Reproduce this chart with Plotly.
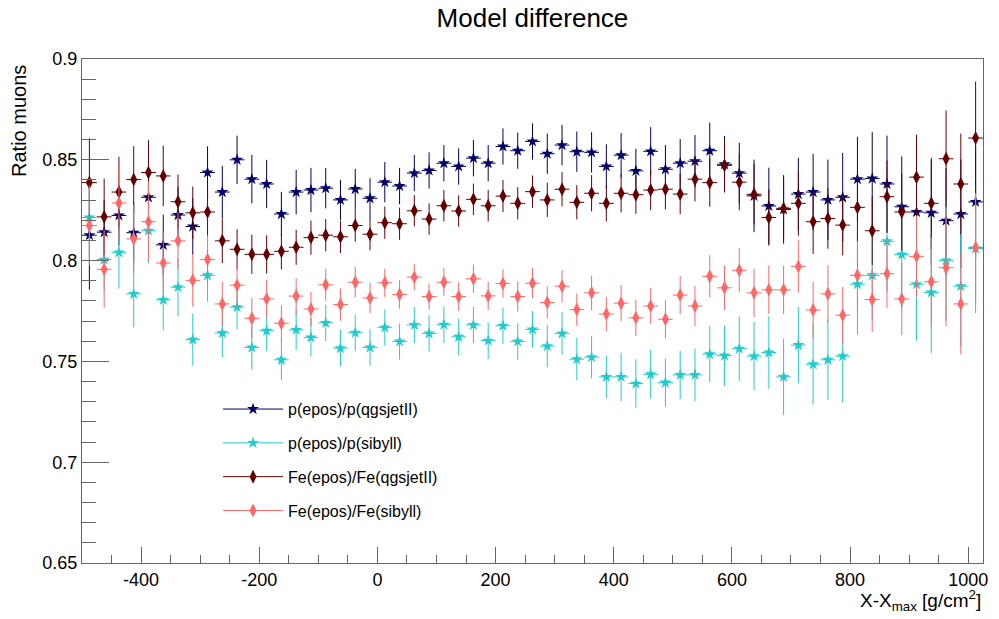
import plotly.graph_objects as go

# Bin centres (X - Xmax, g/cm^2), bin width 25
x_centers = [-487.5, -462.5, -437.5, -412.5, -387.5, -362.5, -337.5, -312.5, -287.5, -262.5,
             -237.5, -212.5, -187.5, -162.5, -137.5, -112.5, -87.5, -62.5, -37.5, -12.5,
             12.5, 37.5, 62.5, 87.5, 112.5, 137.5, 162.5, 187.5, 212.5, 237.5,
             262.5, 287.5, 312.5, 337.5, 362.5, 387.5, 412.5, 437.5, 462.5, 487.5,
             512.5, 537.5, 562.5, 587.5, 612.5, 637.5, 662.5, 687.5, 712.5, 737.5,
             762.5, 787.5, 812.5, 837.5, 862.5, 887.5, 912.5, 937.5, 962.5, 987.5,
             1012.5]
x_half_width = [12.5] * len(x_centers)

p_qgs = [0.8126, 0.8141, 0.8224, 0.8138, 0.8314, 0.8078, 0.8226, 0.8169, 0.8437, 0.8340,
         0.8500, 0.8404, 0.8380, 0.8231, 0.8340, 0.8350, 0.8359, 0.8301, 0.8355, 0.8309,
         0.8389, 0.8370, 0.8434, 0.8447, 0.8483, 0.8467, 0.8508, 0.8483, 0.8566, 0.8545,
         0.8591, 0.8530, 0.8573, 0.8540, 0.8537, 0.8467, 0.8523, 0.8445, 0.8542, 0.8453,
         0.8483, 0.8493, 0.8545, 0.8478, 0.8434, 0.8321, 0.8271, 0.8254, 0.8330, 0.8340,
         0.8301, 0.8314, 0.8404, 0.8407, 0.8380, 0.8267, 0.8241, 0.8237, 0.8198, 0.8231,
         0.8291]
p_qgs_err = [0.027, 0.016, 0.015, 0.015, 0.015, 0.015, 0.014, 0.014, 0.013, 0.013,
             0.012, 0.012, 0.012, 0.011, 0.011, 0.011, 0.010, 0.010, 0.010, 0.010,
             0.010, 0.009, 0.009, 0.009, 0.009, 0.009, 0.009, 0.009, 0.009, 0.009,
             0.009, 0.010, 0.010, 0.010, 0.010, 0.011, 0.011, 0.011, 0.012, 0.012,
             0.012, 0.013, 0.014, 0.014, 0.015, 0.018, 0.019, 0.017, 0.018, 0.019,
             0.020, 0.022, 0.021, 0.023, 0.024, 0.025, 0.025, 0.026, 0.026, 0.027,
             0.028]

p_sib = [0.8214, 0.8005, 0.8041, 0.7835, 0.8148, 0.7805, 0.7868, 0.7608, 0.7927, 0.7641,
         0.7769, 0.7569, 0.7652, 0.7508, 0.7656, 0.7619, 0.7691, 0.7566, 0.7642, 0.7569,
         0.7669, 0.7599, 0.7681, 0.7639, 0.7682, 0.7622, 0.7681, 0.7603, 0.7677, 0.7599,
         0.7659, 0.7576, 0.7639, 0.7511, 0.7521, 0.7423, 0.7423, 0.7390, 0.7436, 0.7395,
         0.7433, 0.7433, 0.7536, 0.7529, 0.7563, 0.7526, 0.7544, 0.7423, 0.7581, 0.7486,
         0.7508, 0.7526, 0.7883, 0.7927, 0.8096, 0.8030, 0.7883, 0.7842, 0.8001, 0.7873,
         0.8060]
p_sib_err = [0.020, 0.015, 0.018, 0.0166, 0.016, 0.015, 0.0145, 0.013, 0.013, 0.012,
             0.011, 0.011, 0.010, 0.010, 0.010, 0.0095, 0.009, 0.009, 0.009, 0.009,
             0.009, 0.009, 0.009, 0.009, 0.009, 0.009, 0.009, 0.009, 0.009, 0.009,
             0.009, 0.0105, 0.0105, 0.0105, 0.0105, 0.0105, 0.012, 0.012, 0.012, 0.012,
             0.012, 0.013, 0.014, 0.015, 0.016, 0.017, 0.018, 0.019, 0.019, 0.020,
             0.020, 0.023, 0.025, 0.022, 0.025, 0.027, 0.028, 0.030, 0.030, 0.030,
             0.032]

fe_qgs = [0.8387, 0.8217, 0.8340, 0.8402, 0.8437, 0.8420, 0.8292, 0.8237, 0.8241, 0.8098,
          0.8056, 0.8031, 0.8031, 0.8046, 0.8066, 0.8114, 0.8126, 0.8118, 0.8174, 0.8131,
          0.8188, 0.8183, 0.8247, 0.8206, 0.8272, 0.8246, 0.8304, 0.8272, 0.8320, 0.8284,
          0.8342, 0.8301, 0.8354, 0.8289, 0.8334, 0.8284, 0.8334, 0.8327, 0.8350, 0.8354,
          0.8330, 0.8404, 0.8387, 0.8472, 0.8389, 0.8329, 0.8214, 0.8259, 0.8284, 0.8193,
          0.8209, 0.8176, 0.8264, 0.8148, 0.8317, 0.8241, 0.8414, 0.8284, 0.8505, 0.8380,
          0.8608]
fe_qgs_err = [0.022, 0.019, 0.0175, 0.0166, 0.016, 0.015, 0.0135, 0.013, 0.012, 0.011,
              0.010, 0.0097, 0.0095, 0.009, 0.0087, 0.0085, 0.008, 0.008, 0.008, 0.008,
              0.008, 0.008, 0.0078, 0.0078, 0.0078, 0.0078, 0.0078, 0.0078, 0.008, 0.008,
              0.008, 0.0085, 0.0085, 0.0085, 0.009, 0.009, 0.0095, 0.0095, 0.010, 0.010,
              0.010, 0.011, 0.012, 0.013, 0.014, 0.015, 0.014, 0.015, 0.016, 0.016,
              0.015, 0.015, 0.017, 0.017, 0.018, 0.019, 0.021, 0.0226, 0.024, 0.025,
              0.028]

fe_sib = [0.8174, 0.7957, 0.8286, 0.8108, 0.8193, 0.7988, 0.8098, 0.7902, 0.8006, 0.7785,
          0.7878, 0.7714, 0.7810, 0.7689, 0.7824, 0.7760, 0.7880, 0.7782, 0.7893, 0.7815,
          0.7890, 0.7832, 0.7918, 0.7822, 0.7893, 0.7822, 0.7910, 0.7825, 0.7887, 0.7822,
          0.7888, 0.7792, 0.7873, 0.7757, 0.7840, 0.7735, 0.7789, 0.7716, 0.7775, 0.7709,
          0.7829, 0.7775, 0.7922, 0.7865, 0.7952, 0.7840, 0.7855, 0.7855, 0.7971, 0.7755,
          0.7835, 0.7729, 0.7927, 0.7807, 0.7935, 0.7810, 0.8021, 0.7895, 0.7965, 0.7785,
          0.8065]
fe_sib_err = [0.020, 0.019, 0.018, 0.017, 0.020, 0.015, 0.014, 0.013, 0.012, 0.011,
              0.011, 0.010, 0.0095, 0.009, 0.009, 0.0085, 0.008, 0.008, 0.0075, 0.0075,
              0.007, 0.007, 0.0065, 0.0065, 0.007, 0.007, 0.007, 0.007, 0.007, 0.0075,
              0.0075, 0.008, 0.008, 0.008, 0.0085, 0.0085, 0.009, 0.009, 0.009, 0.0095,
              0.0095, 0.010, 0.0105, 0.011, 0.011, 0.012, 0.012, 0.012, 0.013, 0.014,
              0.0143, 0.014, 0.017, 0.016, 0.017, 0.018, 0.020, 0.022, 0.029, 0.025,
              0.027]

series_names = ["p(epos)/p(qgsjetII)", "p(epos)/p(sibyll)",
                "Fe(epos)/Fe(qgsjetII)", "Fe(epos)/Fe(sibyll)"]
series_values = [p_qgs, p_sib, fe_qgs, fe_sib]
series_errors = [p_qgs_err, p_sib_err, fe_qgs_err, fe_sib_err]
series_colors = ["#000066", "#22cccc", "#660000", "#ff6666"]
series_symbols = ["star", "star", "diamond-tall", "diamond-tall"]
series_sizes = [9, 9, 10, 10]

x_tick_vals = [-400, -200, 0, 200, 400, 600, 800, 1000]
x_tick_text = ["-400", "-200", "0", "200", "400", "600", "800", "1000"]
y_tick_vals = [0.65, 0.7, 0.75, 0.8, 0.85, 0.9]
y_tick_text = ["0.65", "0.7", "0.75", "0.8", "0.85", "0.9"]

FONT = "Liberation Sans, Arial, Helvetica, sans-serif"

fig = go.Figure()
for name, vals, errs, col, sym, sz in zip(series_names, series_values, series_errors,
                                          series_colors, series_symbols, series_sizes):
    fig.add_trace(go.Scatter(
        x=x_centers, y=vals, mode="markers", showlegend=False,
        marker=dict(symbol=sym, size=sz, color=col, line=dict(width=0)),
        error_y=dict(type="data", array=errs, visible=True, color=col, thickness=1, width=0),
        error_x=dict(type="data", array=x_half_width, visible=True, color=col, thickness=1, width=0),
    ))

for i, (name, col, sym, sz) in enumerate(zip(series_names, series_colors, series_symbols, series_sizes)):
    fig.add_trace(go.Scatter(
        x=[None], y=[None], mode="lines+markers", name=name, legendgroup=f"g{i}",
        line=dict(color=col, width=1),
        marker=dict(symbol=sym, size=sz, color=col, line=dict(width=0)),
    ))

fig.update_layout(
    width=999, height=619,
    margin=dict(l=82, r=11, t=59, b=56),
    paper_bgcolor="white", plot_bgcolor="white",
    font=dict(family=FONT, size=18, color="black"),
    title=dict(text="Model difference", x=0.533, xanchor="center", xref="container",
               y=0.971, yanchor="middle", yref="container",
               font=dict(family=FONT, size=26, color="black")),
    showlegend=True,
    legend=dict(x=0.151, xanchor="left", y=0.339, yanchor="top",
                bgcolor="rgba(0,0,0,0)", borderwidth=0,
                font=dict(family=FONT, size=16, color="black"),
                traceorder="grouped", tracegroupgap=10, itemwidth=60),
    xaxis=dict(range=[-500, 1025], showgrid=False, zeroline=False,
               showline=True, linecolor="#666666", linewidth=1, mirror=True,
               ticks="inside", ticklen=16, tickcolor="#666666", tickwidth=1,
               tickvals=x_tick_vals, ticktext=x_tick_text,
               tickfont=dict(family=FONT, size=18, color="black"),
               minor=dict(ticks="inside", ticklen=8, dtick=50, tick0=0,
                          tickcolor="#666666", showgrid=False)),
    yaxis=dict(range=[0.65, 0.9], showgrid=False, zeroline=False,
               showline=True, linecolor="#666666", linewidth=1, mirror=True,
               ticks="inside", ticklen=27, tickcolor="#666666", tickwidth=1,
               tickvals=y_tick_vals, ticktext=y_tick_text,
               tickfont=dict(family=FONT, size=18, color="black"),
               minor=dict(ticks="inside", ticklen=14, dtick=0.01, tick0=0.65,
                          tickcolor="#666666", showgrid=False)),
    annotations=[
        dict(text="Ratio muons", textangle=-90, xref="paper", yref="paper",
             x=-0.07, y=0.992, xanchor="center", yanchor="top", showarrow=False,
             font=dict(family=FONT, size=20, color="black")),
        dict(text="X-X<sub>max</sub> [g/cm<sup>2</sup>]", xref="paper", yref="paper",
             x=1.0, y=-0.075, xanchor="right", yanchor="middle", showarrow=False,
             font=dict(family=FONT, size=19, color="black")),
    ],
)

fig.write_html("out.html")
